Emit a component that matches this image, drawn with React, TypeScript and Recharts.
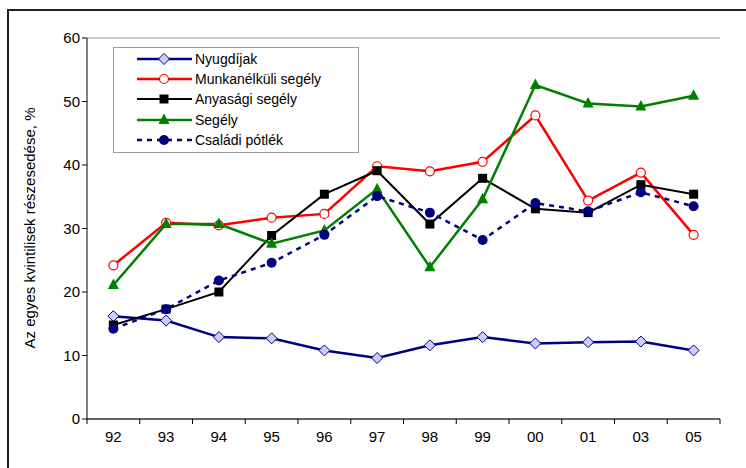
import { CartesianGrid, Line, LineChart, XAxis, YAxis } from "recharts";

const years = ["92", "93", "94", "95", "96", "97", "98", "99", "00", "01", "03", "05"];
const nyugdijak = [16.2, 15.5, 12.9, 12.7, 10.8, 9.6, 11.6, 12.9, 11.9, 12.1, 12.2, 10.8];
const munkanelkuli = [24.2, 30.9, 30.5, 31.7, 32.3, 39.8, 39.0, 40.5, 47.8, 34.4, 38.8, 29.0];
const anyasagi = [14.8, 17.3, 20.0, 28.9, 35.4, 39.1, 30.7, 37.9, 33.1, 32.5, 36.9, 35.4];
const segely = [21.1, 30.7, 30.7, 27.6, 29.7, 36.2, 23.9, 34.6, 52.6, 49.7, 49.2, 50.9];
const csaladi = [14.2, 17.3, 21.8, 24.6, 29.0, 35.1, 32.5, 28.2, 34.0, 32.7, 35.7, 33.5];
const yTicks = [0, 10, 20, 30, 40, 50, 60];

const data = years.map((year, i) => ({
  year,
  nyugdijak: nyugdijak[i],
  munkanelkuli: munkanelkuli[i],
  anyasagi: anyasagi[i],
  segely: segely[i],
  csaladi: csaladi[i],
}));

const FONT = "Arial, 'Liberation Sans', sans-serif";
const WIDTH = 746;
const HEIGHT = 468;
const X_HEIGHT = 30;
const MARGIN = { top: 38, right: 26, bottom: 49 - X_HEIGHT, left: 27 };
const Y_WIDTH = 60;
const PLOT_W = WIDTH - MARGIN.left - MARGIN.right - Y_WIDTH;
const BAND = PLOT_W / years.length;

type DotProps = { cx?: number; cy?: number; index?: number };

const Diamond = ({ cx = 0, cy = 0 }: DotProps) => (
  <polygon
    points={`${cx},${cy - 5.5} ${cx + 5.5},${cy} ${cx},${cy + 5.5} ${cx - 5.5},${cy}`}
    fill="#ccccff"
    stroke="#000080"
    strokeWidth={1}
  />
);
const OpenCircle = ({ cx = 0, cy = 0 }: DotProps) => (
  <circle cx={cx} cy={cy} r={4.5} fill="#fff" stroke="#ff0000" strokeWidth={1.2} />
);
const Square = ({ cx = 0, cy = 0 }: DotProps) => (
  <rect x={cx - 4.5} y={cy - 4.5} width={9} height={9} fill="#000" />
);
const Triangle = ({ cx = 0, cy = 0 }: DotProps) => (
  <polygon
    points={`${cx},${cy - 6.5} ${cx + 5.5},${cy + 4} ${cx - 5.5},${cy + 4}`}
    fill="#008000"
  />
);
const Filled = ({ cx = 0, cy = 0 }: DotProps) => (
  <circle cx={cx} cy={cy} r={5} fill="#000080" />
);

const series = [
  { key: "nyugdijak", name: "Nyugdíjak", color: "#000080", width: 2.5, dash: undefined, Dot: Diamond },
  { key: "munkanelkuli", name: "Munkanélküli segély", color: "#ff0000", width: 2.5, dash: undefined, Dot: OpenCircle },
  { key: "anyasagi", name: "Anyasági segély", color: "#000000", width: 2, dash: undefined, Dot: Square },
  { key: "segely", name: "Segély", color: "#008000", width: 2.5, dash: undefined, Dot: Triangle },
  { key: "csaladi", name: "Családi pótlék", color: "#000080", width: 2.5, dash: "5 5", Dot: Filled },
];

const XTick = (props: any) => {
  const { x, y, payload, index } = props;
  const left = x - BAND / 2;
  return (
    <g>
      <line x1={left} y1={y - 8} x2={left} y2={y - 3} stroke="#000" />
      {index === years.length - 1 && (
        <line x1={x + BAND / 2} y1={y - 8} x2={x + BAND / 2} y2={y - 3} stroke="#000" />
      )}
      <text x={x} y={y + 15} textAnchor="middle" fontSize={15} fontFamily={FONT} fill="#000">
        {payload.value}
      </text>
    </g>
  );
};

const LegendBox = () => (
  <div
    style={{
      position: "absolute",
      left: 113,
      top: 47,
      background: "#fff",
      border: "1px solid #999",
      width: 246,
      height: 106,
      boxSizing: "border-box",
      paddingTop: 1,
      fontFamily: FONT,
      fontSize: 14,
      color: "#000",
    }}
  >
    {series.map((s) => (
      <div key={s.key} style={{ display: "flex", alignItems: "center", height: 20.2 }}>
        <svg width={59} height={16} style={{ marginLeft: 22 }}>
          <line
            x1={1}
            y1={8}
            x2={56}
            y2={8}
            stroke={s.color}
            strokeWidth={s.width}
            strokeDasharray={s.dash}
          />
          <s.Dot cx={28} cy={8} />
        </svg>
        <span>{s.name}</span>
      </div>
    ))}
  </div>
);

const YLabel = () => (
  <text
    x={31}
    y={228}
    transform="rotate(-90 31 228)"
    textAnchor="middle"
    dominantBaseline="middle"
    fontSize={15}
    fontFamily={FONT}
    fill="#000"
  >
    Az egyes kvintilisek részesedése, %
  </text>
);

export default function App() {
  return (
    <div style={{ position: "relative", width: WIDTH, height: HEIGHT, overflow: "hidden", background: "#fff" }}>
      <style>{"body{margin:0}"}</style>
      <div
        style={{
          position: "absolute",
          left: 7,
          top: 9,
          width: 800,
          height: 500,
          border: "2px solid #222",
        }}
      />
      <div style={{ position: "absolute", left: 0, top: 0 }}>
        <LineChart width={WIDTH} height={HEIGHT} data={data} margin={MARGIN}>
          <CartesianGrid vertical={false} stroke="#999" strokeWidth={1} />
          <XAxis
            dataKey="year"
            height={X_HEIGHT}
            axisLine={{ stroke: "#000" }}
            tickLine={false}
            tick={<XTick />}
            interval={0}
            padding={{ left: BAND / 2, right: BAND / 2 }}
          />
          <YAxis
            yAxisId="left"
            domain={[0, 60]}
            ticks={yTicks}
            width={Y_WIDTH}
            axisLine={{ stroke: "#000" }}
            tickLine={{ stroke: "#000" }}
            tickSize={5}
            tick={{ fontSize: 15, fontFamily: FONT, fill: "#000" }}
            label={<YLabel />}
          />
          <YAxis
            yAxisId="right"
            orientation="right"
            domain={[0, 60]}
            width={0}
            tick={false}
            tickLine={false}
            axisLine={{ stroke: "#999" }}
          />
          {series.map((s) => (
            <Line
              key={s.key}
              yAxisId="left"
              type="linear"
              dataKey={s.key}
              name={s.name}
              stroke={s.color}
              strokeWidth={s.width}
              strokeDasharray={s.dash}
              dot={(p: any) => <s.Dot key={`${s.key}-${p.index}`} cx={p.cx} cy={p.cy} />}
              activeDot={false}
              isAnimationActive={false}
            />
          ))}
        </LineChart>
      </div>
      <LegendBox />
    </div>
  );
}
